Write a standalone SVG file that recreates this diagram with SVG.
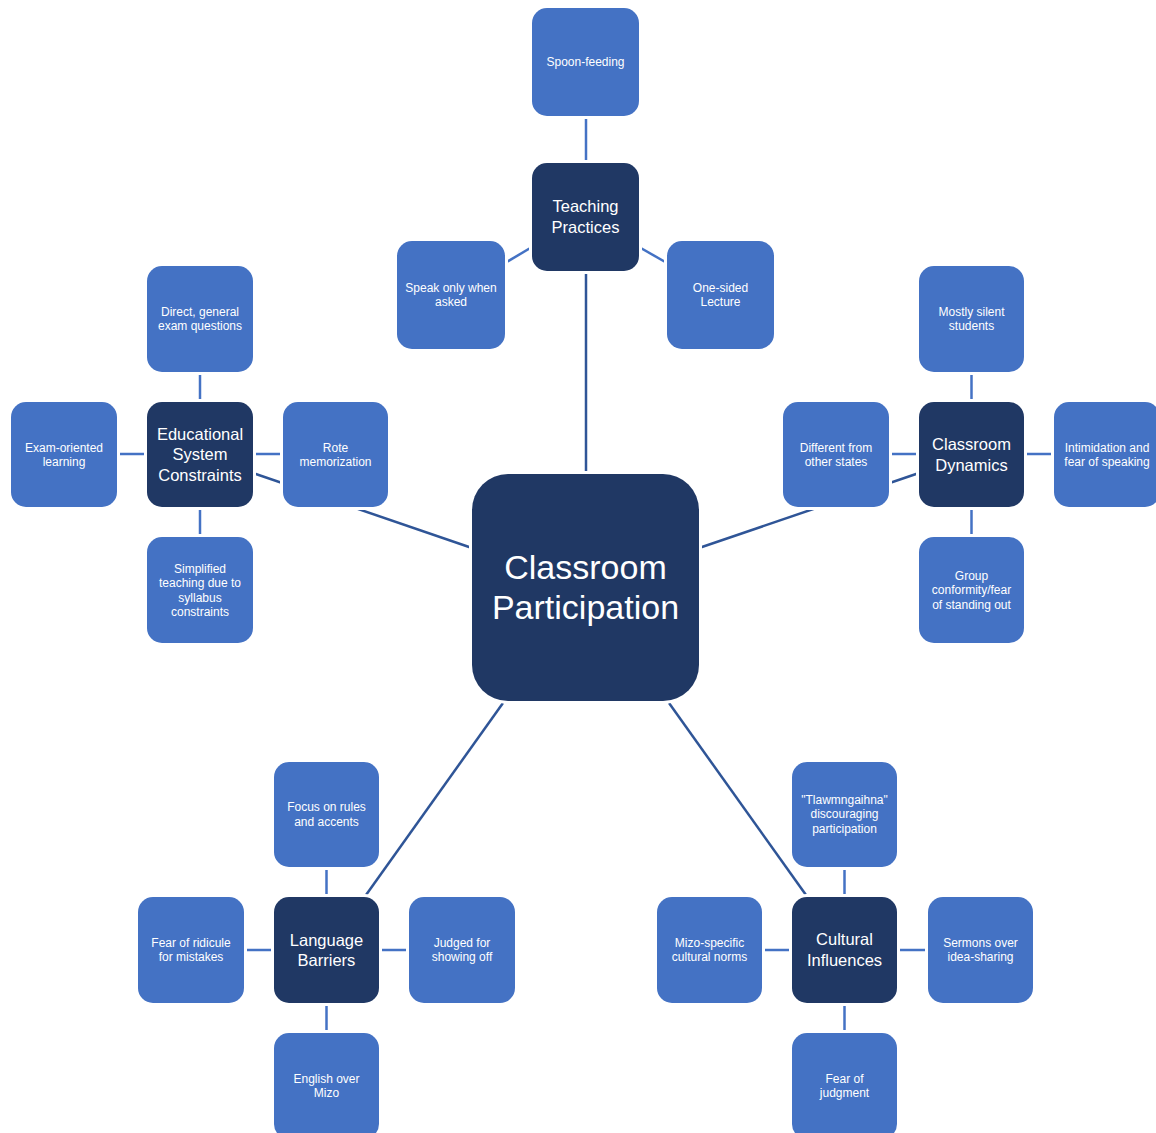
<svg xmlns="http://www.w3.org/2000/svg" width="1156" height="1133" viewBox="0 0 1156 1133">
<style>
.box{stroke:#fff;stroke-width:6;paint-order:stroke}
.leaf{fill:#4472C4}
.hub{fill:#203864}
.c{stroke:#4472C4;stroke-width:2.5;fill:none}
.l{stroke:#2F5597;stroke-width:2.5;fill:none}
text{font-family:"Liberation Sans",Arial,sans-serif;fill:#fff;text-anchor:middle}
.s{font-size:12px}
.m{font-size:16.5px}
.b{font-size:34px}
</style>
<rect width="1156" height="1133" fill="#fff"/>
<g id="connectors">
<line class="l" x1="586" y1="271" x2="586" y2="474"/>
<line class="l" x1="472" y1="548" x2="253" y2="473"/>
<line class="l" x1="699" y1="548" x2="919" y2="473"/>
<line class="l" x1="503" y1="703" x2="366" y2="895"/>
<line class="l" x1="669" y1="703" x2="806" y2="895"/>
<line class="c" x1="586" y1="116" x2="586" y2="163"/>
<line class="c" x1="532" y1="247" x2="505" y2="263"/>
<line class="c" x1="639" y1="247" x2="667" y2="263"/>
<line class="c" x1="200" y1="372" x2="200" y2="402"/>
<line class="c" x1="117" y1="454" x2="147" y2="454"/>
<line class="c" x1="253" y1="454" x2="283" y2="454"/>
<line class="c" x1="200" y1="507" x2="200" y2="537"/>
<line class="c" x1="971.5" y1="372" x2="971.5" y2="402"/>
<line class="c" x1="889" y1="454" x2="919" y2="454"/>
<line class="c" x1="1024" y1="454" x2="1054" y2="454"/>
<line class="c" x1="971.5" y1="507" x2="971.5" y2="537"/>
<line class="c" x1="326.5" y1="867" x2="326.5" y2="897"/>
<line class="c" x1="244" y1="950" x2="274" y2="950"/>
<line class="c" x1="379" y1="950" x2="409" y2="950"/>
<line class="c" x1="326.5" y1="1003" x2="326.5" y2="1033"/>
<line class="c" x1="844.5" y1="867" x2="844.5" y2="897"/>
<line class="c" x1="762" y1="950" x2="792" y2="950"/>
<line class="c" x1="897" y1="950" x2="928" y2="950"/>
<line class="c" x1="844.5" y1="1003" x2="844.5" y2="1033"/>
</g>
<g id="center"><rect class="box hub" x="472" y="474" width="227" height="227" rx="36"/><text class="b" x="585.5" y="579">Classroom</text><text class="b" x="585.5" y="619">Participation</text></g>

<g id="teaching"><rect class="box hub" x="532" y="163" width="107" height="108" rx="15"/><text class="m" x="585.5" y="212">Teaching</text><text class="m" x="585.5" y="233">Practices</text></g>
<g id="spoon"><rect class="box leaf" x="532" y="8" width="107" height="108" rx="15"/><text class="s" x="585.5" y="66">Spoon-feeding</text></g>
<g id="speak"><rect class="box leaf" x="397" y="241" width="108" height="108" rx="15"/><text class="s" x="451" y="292">Speak only when</text><text class="s" x="451" y="306">asked</text></g>
<g id="lecture"><rect class="box leaf" x="667" y="241" width="107" height="108" rx="15"/><text class="s" x="720.5" y="292">One-sided</text><text class="s" x="720.5" y="306">Lecture</text></g>

<g id="edu"><rect class="box hub" x="147" y="402" width="106" height="105" rx="15"/><text class="m" x="200" y="440">Educational</text><text class="m" x="200" y="460">System</text><text class="m" x="200" y="481">Constraints</text></g>
<g id="direct"><rect class="box leaf" x="147" y="266" width="106" height="106" rx="15"/><text class="s" x="200" y="316">Direct, general</text><text class="s" x="200" y="330">exam questions</text></g>
<g id="exam"><rect class="box leaf" x="11" y="402" width="106" height="105" rx="15"/><text class="s" x="64" y="452">Exam-oriented</text><text class="s" x="64" y="466">learning</text></g>
<g id="rote"><rect class="box leaf" x="283" y="402" width="105" height="105" rx="15"/><text class="s" x="335.5" y="452">Rote</text><text class="s" x="335.5" y="466">memorization</text></g>
<g id="simplified"><rect class="box leaf" x="147" y="537" width="106" height="106" rx="15"/><text class="s" x="200" y="573">Simplified</text><text class="s" x="200" y="587">teaching due to</text><text class="s" x="200" y="602">syllabus</text><text class="s" x="200" y="616">constraints</text></g>

<g id="dynamics"><rect class="box hub" x="919" y="402" width="105" height="105" rx="15"/><text class="m" x="971.5" y="450">Classroom</text><text class="m" x="971.5" y="471">Dynamics</text></g>
<g id="silent"><rect class="box leaf" x="919" y="266" width="105" height="106" rx="15"/><text class="s" x="971.5" y="316">Mostly silent</text><text class="s" x="971.5" y="330">students</text></g>
<g id="different"><rect class="box leaf" x="783" y="402" width="106" height="105" rx="15"/><text class="s" x="836" y="452">Different from</text><text class="s" x="836" y="466">other states</text></g>
<g id="intimidation"><rect class="box leaf" x="1054" y="402" width="106" height="105" rx="15"/><text class="s" x="1107" y="452">Intimidation and</text><text class="s" x="1107" y="466">fear of speaking</text></g>
<g id="group"><rect class="box leaf" x="919" y="537" width="105" height="106" rx="15"/><text class="s" x="971.5" y="580">Group</text><text class="s" x="971.5" y="594">conformity/fear</text><text class="s" x="971.5" y="609">of standing out</text></g>

<g id="language"><rect class="box hub" x="274" y="897" width="105" height="106" rx="15"/><text class="m" x="326.5" y="946">Language</text><text class="m" x="326.5" y="966">Barriers</text></g>
<g id="focus"><rect class="box leaf" x="274" y="762" width="105" height="105" rx="15"/><text class="s" x="326.5" y="811">Focus on rules</text><text class="s" x="326.5" y="826">and accents</text></g>
<g id="ridicule"><rect class="box leaf" x="138" y="897" width="106" height="106" rx="15"/><text class="s" x="191" y="947">Fear of ridicule</text><text class="s" x="191" y="961">for mistakes</text></g>
<g id="judged"><rect class="box leaf" x="409" y="897" width="106" height="106" rx="15"/><text class="s" x="462" y="947">Judged for</text><text class="s" x="462" y="961">showing off</text></g>
<g id="english"><rect class="box leaf" x="274" y="1033" width="105" height="106" rx="15"/><text class="s" x="326.5" y="1083">English over</text><text class="s" x="326.5" y="1097">Mizo</text></g>

<g id="cultural"><rect class="box hub" x="792" y="897" width="105" height="106" rx="15"/><text class="m" x="844.5" y="945">Cultural</text><text class="m" x="844.5" y="966">Influences</text></g>
<g id="tlawm"><rect class="box leaf" x="792" y="762" width="105" height="105" rx="15"/><text class="s" x="844.5" y="804">"Tlawmngaihna"</text><text class="s" x="844.5" y="818">discouraging</text><text class="s" x="844.5" y="833">participation</text></g>
<g id="mizo"><rect class="box leaf" x="657" y="897" width="105" height="106" rx="15"/><text class="s" x="709.5" y="947">Mizo-specific</text><text class="s" x="709.5" y="961">cultural norms</text></g>
<g id="sermons"><rect class="box leaf" x="928" y="897" width="105" height="106" rx="15"/><text class="s" x="980.5" y="947">Sermons over</text><text class="s" x="980.5" y="961">idea-sharing</text></g>
<g id="judgment"><rect class="box leaf" x="792" y="1033" width="105" height="106" rx="15"/><text class="s" x="844.5" y="1083">Fear of</text><text class="s" x="844.5" y="1097">judgment</text></g>
</svg>
